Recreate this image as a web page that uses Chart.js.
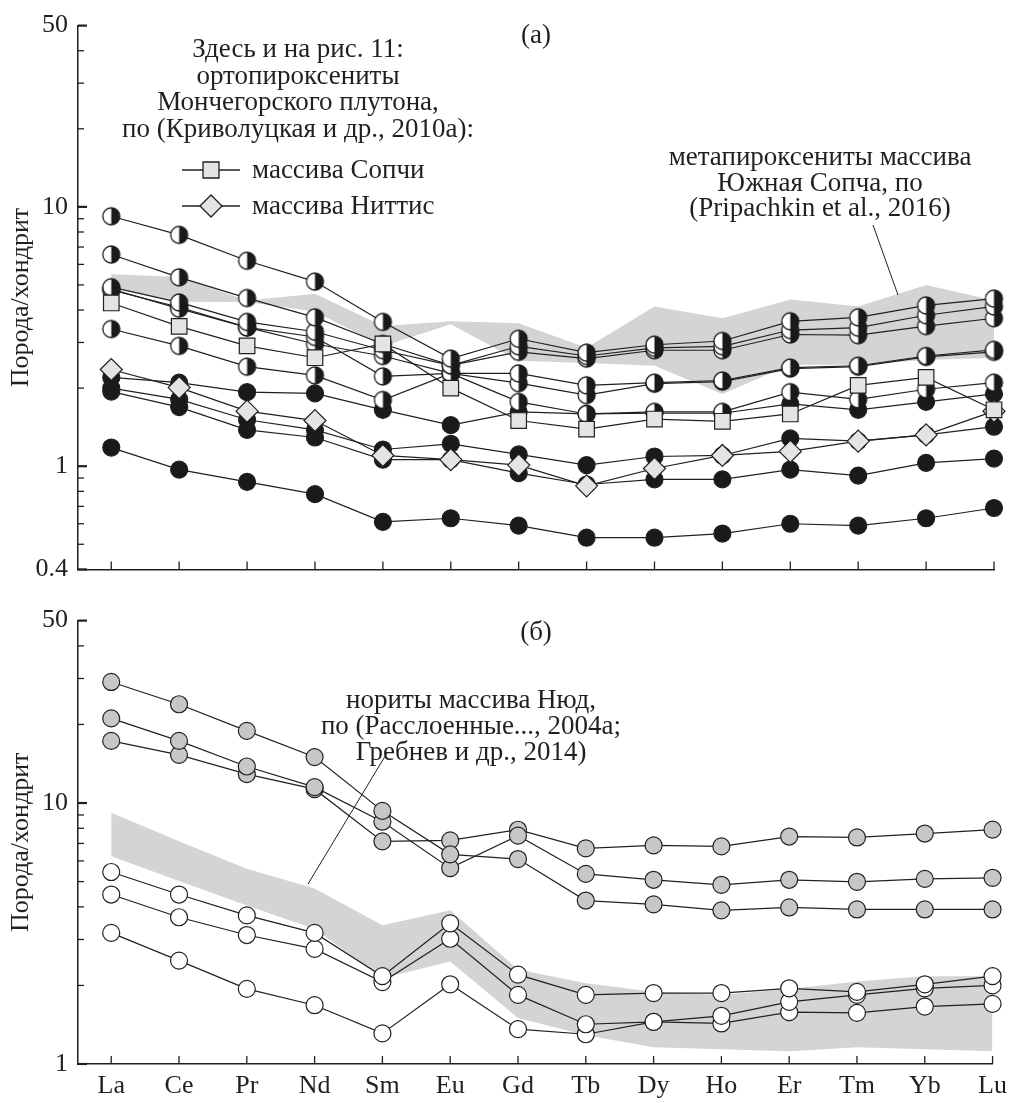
<!DOCTYPE html>
<html>
<head>
<meta charset="utf-8">
<script src="https://cdn.jsdelivr.net/npm/chart.js@4.4.1/dist/chart.umd.min.js"></script>
<style>
  body { margin: 0; background: #fff; }
  #wrap { position: relative; width: 1014px; height: 1103px; }
  canvas { position: absolute; left: 0; }
  #top { top: 0; }
  #bot { top: 595px; }
</style>
</head>
<body>
<div id="wrap">
  <canvas id="top"></canvas>
  <canvas id="bot"></canvas>
</div>
<script>
// элементы (ось X)
const elements = ['La', 'Ce', 'Pr', 'Nd', 'Sm', 'Eu', 'Gd', 'Tb', 'Dy', 'Ho', 'Er', 'Tm', 'Yb', 'Lu'];

// деления оси Y
const ticksTop = [0.4, 1, 10, 50];
const ticksBot = [1, 10, 50];

// (а) ортопироксениты, полузаполненные кружки
const halfA = [9.2, 7.8, 6.2, 5.15, 3.6, 2.6, 3.1, 2.74, 2.94, 3.04, 3.62, 3.75, 4.17, 4.43];
const halfB = [6.55, 5.35, 4.45, 3.75, 2.96, 2.45, 2.9, 2.66, 2.86, 2.9, 3.35, 3.42, 3.82, 4.13];
const halfC = [4.9, 4.28, 3.6, 3.3, 2.8, 2.45, 2.76, 2.6, 2.8, 2.8, 3.22, 3.2, 3.47, 3.72];
const halfD = [4.82, 4.05, 3.43, 3.15, 2.22, 2.28, 2.28, 2.05, 2.1, 2.14, 2.4, 2.44, 2.66, 2.81];
const halfE = [3.38, 2.91, 2.42, 2.24, 1.8, 2.28, 2.09, 1.88, 2.08, 2.12, 2.38, 2.42, 2.64, 2.76];
const halfF = [4.78, 4.1, 3.43, 2.96, 2.66, 2.28, 1.77, 1.59, 1.62, 1.62, 1.93, 1.81, 1.98, 2.1];

// (а) залитые кружки
const fullG = [2.2, 2.1, 1.93, 1.91, 1.65, 1.44, 1.62, 1.59, 1.6, 1.6, 1.74, 1.65, 1.77, 1.9];
const fullH = [2.0, 1.81, 1.51, 1.38, 1.16, 1.22, 1.11, 1.01, 1.09, 1.1, 1.28, 1.25, 1.32, 1.42];
const fullI = [1.94, 1.69, 1.38, 1.29, 1.06, 1.06, 0.94, 0.85, 0.89, 0.89, 0.97, 0.92, 1.03, 1.07];
const fullJ = [1.18, 0.97, 0.87, 0.78, 0.61, 0.63, 0.59, 0.53, 0.53, 0.55, 0.6, 0.59, 0.63, 0.69];

// (а) массив Сопчи и массив Ниттис
const sopchi = [4.26, 3.46, 2.91, 2.62, 2.96, 2.0, 1.5, 1.39, 1.52, 1.49, 1.59, 2.05, 2.2, 1.65];
const nittis = [2.36, 2.01, 1.63, 1.5, 1.1, 1.06, 1.01, 0.84, 0.98, 1.1, 1.14, 1.25, 1.32, 1.63];

// (а) поле метапироксенитов Южной Сопчи
const bandTopHi = [5.5, 5.36, 4.35, 4.62, 3.47, 3.62, 3.56, 2.86, 4.13, 3.72, 4.39, 4.13, 5.0, 4.35];
const bandTopLo = [4.9, 4.31, 4.3, 3.95, 2.9, 3.53, 2.55, 2.5, 2.44, 1.9, 2.46, 2.46, 2.57, 2.62];

// (б) серые кружки
const greyS1 = [29.1, 23.9, 18.9, 15.0, 9.33, 6.36, 6.1, 4.23, 4.09, 3.88, 3.98, 3.91, 3.91, 3.91];
const greyS2 = [21.1, 17.3, 13.8, 11.5, 8.48, 5.63, 7.5, 5.35, 5.08, 4.86, 5.08, 4.99, 5.12, 5.17];
const greyS3 = [17.3, 15.3, 12.9, 11.3, 7.13, 7.19, 7.9, 6.7, 6.88, 6.82, 7.44, 7.38, 7.64, 7.91];

// (б) белые кружки
const whiteW1 = [5.44, 4.46, 3.71, 3.18, 2.17, 3.46, 2.2, 1.84, 1.87, 1.87, 1.95, 1.89, 2.02, 2.17];
const whiteW2 = [4.46, 3.65, 3.12, 2.76, 2.06, 3.02, 1.84, 1.42, 1.45, 1.53, 1.73, 1.84, 1.95, 2.0];
const whiteW3 = [3.18, 2.49, 1.94, 1.68, 1.31, 2.02, 1.36, 1.3, 1.45, 1.43, 1.58, 1.57, 1.66, 1.7];

// (б) поле норитов массива Нюд
const bandBotHi = [9.17, 7.13, 5.6, 4.7, 3.4, 3.88, 2.3, 2.04, 1.89, 1.84, 1.94, 2.07, 2.17, 2.17];
const bandBotLo = [6.25, 5.03, 4.05, 3.29, 2.13, 2.47, 1.5, 1.29, 1.16, 1.14, 1.12, 1.16, 1.14, 1.12];

const INK = '#231f20';
const FONT = 'Liberation Serif';
const BAND = '#d3d4d6';
const LIGHT = '#e3e4e6';
const GREY = '#c6c7c9';

function pts(arr) {
    return arr.map((v, i) => ({ x: i, y: v }));
}

// полузаполненный кружок как картинка для pointStyle
function halfDot(r) {
    const c = document.createElement('canvas');
    const s = Math.ceil(2 * r + 4);
    c.width = s; c.height = s;
    const g = c.getContext('2d');
    const m = s / 2;
    g.fillStyle = '#fff';
    g.beginPath(); g.arc(m, m, r, 0, 2 * Math.PI); g.fill();
    g.fillStyle = '#1a1a1a';
    g.beginPath(); g.arc(m, m, r, -Math.PI / 2, Math.PI / 2); g.closePath(); g.fill();
    g.strokeStyle = '#1a1a1a'; g.lineWidth = 1.3;
    g.beginPath(); g.arc(m, m, r, 0, 2 * Math.PI); g.stroke();
    return c;
}
const halfImg = halfDot(8.5);

function series(arr, style) {
    const ds = {
        data: pts(arr),
        borderColor: INK,
        borderWidth: 1.2,
        pointBorderColor: INK,
        pointBorderWidth: 1.2,
        fill: false,
        clip: false,
        tension: 0
    };
    if (style === 'half') {
        ds.pointStyle = halfImg;
        ds.pointRadius = 8.5;
    } else if (style === 'full') {
        ds.pointStyle = 'circle'; ds.pointRadius = 8.5; ds.pointBackgroundColor = '#1a1a1a';
    } else if (style === 'grey') {
        ds.pointStyle = 'circle'; ds.pointRadius = 8.5; ds.pointBackgroundColor = GREY;
    } else if (style === 'white') {
        ds.pointStyle = 'circle'; ds.pointRadius = 8.5; ds.pointBackgroundColor = '#fff';
    } else if (style === 'square') {
        ds.pointStyle = 'rect'; ds.pointRadius = 11; ds.pointBackgroundColor = LIGHT;
    } else if (style === 'diamond') {
        ds.pointStyle = 'rectRot'; ds.pointRadius = 11; ds.pointBackgroundColor = LIGHT;
    }
    return ds;
}

function band(hi, lo) {
    return [
        { data: pts(hi), fill: '+1', backgroundColor: BAND, borderColor: 'rgba(0,0,0,0)', borderWidth: 1, pointRadius: 0, order: 10 },
        { data: pts(lo), fill: false, borderColor: 'rgba(0,0,0,0)', borderWidth: 1, pointRadius: 0, order: 11 }
    ];
}

// деления внутрь, подписи и выноски
const decor = {
    id: 'decor',
    beforeDatasetsDraw(chart, args, opts) {
        const ctx = chart.ctx;
        const xs = chart.scales.x, ys = chart.scales.y;
        ctx.save();
        ctx.strokeStyle = INK;
        ctx.lineWidth = 1.3;
        elements.forEach((e, i) => {
            const px = xs.getPixelForValue(i);
            ctx.beginPath(); ctx.moveTo(px, ys.bottom); ctx.lineTo(px, ys.bottom - 8); ctx.stroke();
        });
        for (let d = -1; d <= 1; d++) {
            for (let k = 1; k <= 9; k++) {
                const v = k * Math.pow(10, d);
                if (v < ys.min - 1e-9 || v > ys.max + 1e-9) continue;
                const py = ys.getPixelForValue(v);
                const major = opts.major.includes(v);
                ctx.lineWidth = major ? 2.2 : 1.3;
                ctx.beginPath(); ctx.moveTo(ys.right, py); ctx.lineTo(ys.right + (major ? 9 : 6), py); ctx.stroke();
            }
        }
        ctx.restore();
    },
    afterDraw(chart, args, opts) {
        const ctx = chart.ctx;
        ctx.save();
        ctx.fillStyle = INK;
        ctx.strokeStyle = INK;
        ctx.font = '27px "' + FONT + '"';
        ctx.textBaseline = 'alphabetic';
        (opts.texts || []).forEach(t => {
            ctx.textAlign = t.align || 'center';
            t.lines.forEach((s, i) => ctx.fillText(s, t.x, t.y + i * t.lh));
        });
        ctx.lineWidth = 1;
        (opts.leaders || []).forEach(l => {
            ctx.beginPath(); ctx.moveTo(l[0], l[1]); ctx.lineTo(l[2], l[3]); ctx.stroke();
        });
        (opts.legend || []).forEach(g => {
            ctx.lineWidth = 1.3;
            ctx.beginPath(); ctx.moveTo(182, g.y); ctx.lineTo(240, g.y); ctx.stroke();
            ctx.fillStyle = LIGHT;
            ctx.beginPath();
            if (g.kind === 'square') {
                ctx.rect(211 - 8, g.y - 8, 16, 16);
            } else {
                ctx.moveTo(211 - 11, g.y); ctx.lineTo(211, g.y - 11); ctx.lineTo(211 + 11, g.y); ctx.lineTo(211, g.y + 11); ctx.closePath();
            }
            ctx.fill(); ctx.stroke();
            ctx.fillStyle = INK;
            ctx.textAlign = 'left';
            ctx.fillText(g.text, 252, g.y + 8);
        });
        ctx.restore();
    }
};

function makeChart(id, height, padTop, xHeight, showLabels, yMin, yMax, yTicks, datasets, decorOpts) {
    const canvas = document.getElementById(id);
    canvas.width = 1014; canvas.height = height;
    canvas.style.width = '1014px'; canvas.style.height = height + 'px';
    return new Chart(canvas.getContext('2d'), {
        type: 'line',
        data: { datasets: datasets },
        plugins: [decor],
        options: {
            responsive: false,
            animation: false,
            layout: { padding: { top: padTop, right: 20, bottom: 0, left: 0 } },
            plugins: {
                legend: { display: false },
                tooltip: { enabled: false },
                decor: decorOpts
            },
            scales: {
                x: {
                    type: 'linear',
                    min: -0.49,
                    max: 13,
                    afterBuildTicks: s => { s.ticks = elements.map((e, i) => ({ value: i })); },
                    afterFit: s => { s.height = xHeight; },
                    grid: { display: false, drawTicks: false },
                    border: { display: true, color: INK, width: 1.5 },
                    ticks: {
                        display: showLabels,
                        autoSkip: false,
                        maxRotation: 0,
                        padding: 7,
                        color: INK,
                        font: { family: FONT, size: 26 },
                        callback: v => elements[Math.round(v)]
                    }
                },
                y: {
                    type: 'logarithmic',
                    min: yMin,
                    max: yMax,
                    afterBuildTicks: s => { s.ticks = yTicks.map(v => ({ value: v })); },
                    afterFit: s => { s.width = 78; },
                    grid: { display: false, drawTicks: false },
                    border: { display: true, color: INK, width: 1.5 },
                    ticks: {
                        padding: 10,
                        color: INK,
                        font: { family: FONT, size: 26 },
                        callback: v => String(v)
                    },
                    title: {
                        display: true,
                        text: 'Порода/хондрит',
                        color: INK,
                        font: { family: FONT, size: 26 },
                        padding: { top: 6, bottom: 0 }
                    }
                }
            }
        }
    });
}

makeChart('top', 595, 20, 20, false, 0.4, 50, ticksTop, [
    series(sopchi, 'square'),
    series(nittis, 'diamond'),
    series(halfA, 'half'),
    series(halfB, 'half'),
    series(halfC, 'half'),
    series(halfD, 'half'),
    series(halfE, 'half'),
    series(halfF, 'half'),
    series(fullG, 'full'),
    series(fullH, 'full'),
    series(fullI, 'full'),
    series(fullJ, 'full'),
    ...band(bandTopHi, bandTopLo)
], {
    major: ticksTop,
    texts: [
        { x: 536, y: 43, lh: 0, lines: ['(а)'] },
        { x: 298, y: 57, lh: 26.7, lines: ['Здесь и на рис. 11:', 'ортопироксениты', 'Мончегорского плутона,', 'по (Криволуцкая и др., 2010а):'] },
        { x: 820, y: 165, lh: 25.5, lines: ['метапироксениты массива', 'Южная Сопча, по', '(Pripachkin et al., 2016)'] }
    ],
    leaders: [[873, 225, 898, 295]],
    legend: [
        { y: 170, kind: 'square', text: 'массива Сопчи' },
        { y: 206, kind: 'diamond', text: 'массива Ниттис' }
    ]
});

makeChart('bot', 508, 18, 39, true, 1, 50, ticksBot, [
    series(greyS1, 'grey'),
    series(greyS2, 'grey'),
    series(greyS3, 'grey'),
    series(whiteW1, 'white'),
    series(whiteW2, 'white'),
    series(whiteW3, 'white'),
    ...band(bandBotHi, bandBotLo)
], {
    major: ticksBot,
    texts: [
        { x: 536, y: 45, lh: 0, lines: ['(б)'] },
        { x: 471, y: 113, lh: 26, lines: ['нориты массива Нюд,', 'по (Расслоенные..., 2004а;', 'Гребнев и др., 2014)'] }
    ],
    leaders: [[387, 158, 308, 289]]
});
</script>
</body>
</html>
